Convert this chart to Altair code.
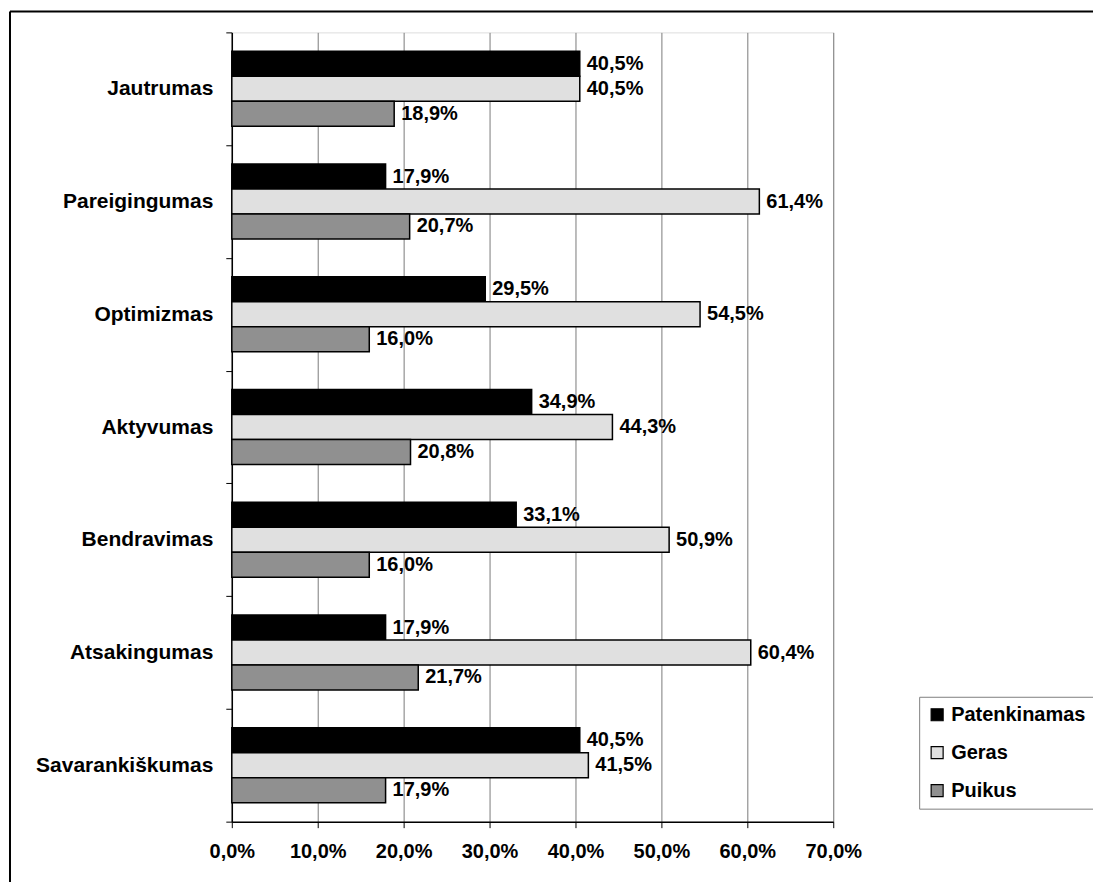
import altair as alt
import pandas as pd

categories = ["Jautrumas", "Pareigingumas", "Optimizmas", "Aktyvumas",
              "Bendravimas", "Atsakingumas", "Savarankiškumas"]
series = ["Patenkinamas", "Geras", "Puikus"]
patenkinamas = [40.5, 17.9, 29.5, 34.9, 33.1, 17.9, 40.5]
geras = [40.5, 61.4, 54.5, 44.3, 50.9, 60.4, 41.5]
puikus = [18.9, 20.7, 16.0, 20.8, 16.0, 21.7, 17.9]
x_ticks = [0, 10, 20, 30, 40, 50, 60, 70]
colors = ["#000000", "#e0e0e0", "#909090"]

rows = []
for i, c in enumerate(categories):
    for s, vals in zip(series, [patenkinamas, geras, puikus]):
        rows.append({"cat": c, "series": s, "value": vals[i]})
df = pd.DataFrame(rows)

FONT = "Liberation Sans"
W, H = 602, 790

base = alt.Chart(df).transform_calculate(
    label="replace(format(datum.value, '.1f'), '.', ',') + '%'"
)

y_enc = alt.Y("cat:N", sort=categories, title=None,
              scale=alt.Scale(paddingInner=0, paddingOuter=0),
              axis=alt.Axis(tickBand="extent", domainColor="#000000", tickColor="#000000",
                            tickSize=6, labelPadding=13, labelFontSize=21,
                            labelFont=FONT, labelFontWeight="bold", labelColor="#000000",
                            grid=False, domainWidth=1.5))
yoff = alt.YOffset("series:N", sort=series,
                   scale=alt.Scale(paddingInner=0, paddingOuter=0.76))

bars = base.mark_bar(stroke="#000000", strokeWidth=1.5).encode(
    x=alt.X("value:Q", title=None,
            scale=alt.Scale(domain=[0, 70], nice=False),
            axis=alt.Axis(values=x_ticks, grid=True, gridColor="#7a7a7a", gridWidth=1,
                          domainColor="#000000", tickColor="#000000", tickSize=6,
                          domainWidth=1.5, labelFlush=False, labelOverlap=False,
                          labelExpr="replace(format(datum.value, '.1f'), '.', ',') + '%'",
                          labelPadding=14, labelFontSize=20, labelFont=FONT,
                          labelFontWeight="bold", labelColor="#000000")),
    y=y_enc,
    yOffset=yoff,
    fill=alt.Fill("series:N", sort=series,
                  scale=alt.Scale(domain=series, range=colors),
                  legend=alt.Legend(title=None, orient="none", legendX=688, legendY=665,
                                    symbolType="square", symbolSize=144,
                                    symbolStrokeColor="#000000", symbolStrokeWidth=1.2,
                                    labelFontSize=20, labelFont=FONT, labelFontWeight="bold",
                                    labelColor="#000000", labelOffset=4, rowPadding=18,
                                    padding=8, strokeColor="#808080", fillColor="#ffffff",
                                    labelLimit=300)),
)

labels = base.mark_text(align="left", baseline="middle", dx=7, fontSize=20,
                        font=FONT, fontWeight="bold", color="#000000").encode(
    x="value:Q",
    y=alt.Y("cat:N", sort=categories),
    yOffset=alt.YOffset("series:N", sort=series),
    text="label:N",
)

border_data = alt.Data(values=[{"a": 1}])
left_border = alt.Chart(border_data).mark_rule(color="#000000", strokeWidth=2).encode(
    x=alt.value(-222), y=alt.value(-21), y2=alt.value(900))
top_border = alt.Chart(border_data).mark_rule(color="#000000", strokeWidth=2).encode(
    x=alt.value(-222), x2=alt.value(900), y=alt.value(-21))

chart = alt.layer(bars, labels, left_border, top_border).properties(
    width=W, height=H,
    autosize=alt.AutoSizeParams(type="none"),
    padding={"left": 224, "top": 24, "right": 260, "bottom": 60},
).configure_view(stroke="#808080", strokeWidth=1.5).configure(background="#ffffff")

chart.save("out.html", embed_options={"renderer": "svg", "actions": False})
